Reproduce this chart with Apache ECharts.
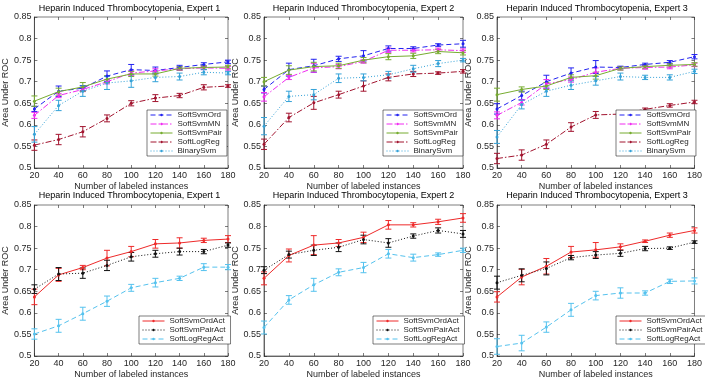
<!DOCTYPE html>
<html>
<head>
<meta charset="utf-8">
<script src="https://cdn.jsdelivr.net/npm/echarts@6/dist/echarts.min.js"></script>
<style>
  html, body { margin: 0; padding: 0; background: #fff; }
  #chart { width: 705px; height: 382px; }
</style>
</head>
<body>
<div id="chart"></div>
<script>
// x values (number of labeled instances)
var xVals = [20, 40, 60, 80, 100, 120, 140, 160, 180];

// top row: passive learning, expert 1
var ord1 = [0.637, 0.678, 0.685, 0.713, 0.728, 0.726, 0.733, 0.740, 0.746];
var ord1Err = [0.006, 0.012, 0.006, 0.012, 0.012, 0.008, 0.005, 0.004, 0.004];
var mn1 = [0.622, 0.668, 0.682, 0.700, 0.720, 0.725, 0.730, 0.732, 0.731];
var mn1Err = [0.007, 0.005, 0.005, 0.005, 0.005, 0.005, 0.004, 0.004, 0.004];
var pair1 = [0.655, 0.677, 0.688, 0.706, 0.718, 0.718, 0.731, 0.733, 0.734];
var pair1Err = [0.012, 0.008, 0.010, 0.008, 0.006, 0.005, 0.004, 0.004, 0.004];
var logreg1 = [0.553, 0.566, 0.584, 0.615, 0.650, 0.662, 0.668, 0.687, 0.690];
var logreg1Err = [0.012, 0.012, 0.012, 0.008, 0.006, 0.008, 0.005, 0.006, 0.003];
var bin1 = [0.578, 0.645, 0.678, 0.697, 0.702, 0.710, 0.712, 0.722, 0.720];
var bin1Err = [0.018, 0.012, 0.012, 0.015, 0.015, 0.010, 0.008, 0.006, 0.004];

// expert 2
var ord2 = [0.682, 0.728, 0.737, 0.753, 0.760, 0.777, 0.777, 0.785, 0.788];
var ord2Err = [0.008, 0.015, 0.015, 0.006, 0.012, 0.006, 0.004, 0.003, 0.008];
var mn2 = [0.665, 0.710, 0.732, 0.735, 0.747, 0.773, 0.773, 0.774, 0.772];
var mn2Err = [0.010, 0.005, 0.010, 0.005, 0.004, 0.005, 0.004, 0.004, 0.004];
var pair2 = [0.700, 0.727, 0.735, 0.737, 0.750, 0.758, 0.760, 0.770, 0.767];
var pair2Err = [0.010, 0.010, 0.010, 0.006, 0.006, 0.007, 0.006, 0.005, 0.005];
var logreg2 = [0.555, 0.617, 0.651, 0.670, 0.690, 0.710, 0.718, 0.720, 0.724];
var logreg2Err = [0.012, 0.010, 0.015, 0.008, 0.012, 0.008, 0.006, 0.003, 0.004];
var bin2 = [0.597, 0.666, 0.670, 0.708, 0.710, 0.716, 0.730, 0.742, 0.750];
var bin2Err = [0.020, 0.012, 0.012, 0.010, 0.008, 0.008, 0.008, 0.007, 0.004];

// expert 3
var ord3 = [0.637, 0.668, 0.700, 0.720, 0.734, 0.733, 0.740, 0.745, 0.758];
var ord3Err = [0.012, 0.010, 0.015, 0.012, 0.015, 0.003, 0.003, 0.004, 0.005];
var mn3 = [0.622, 0.652, 0.695, 0.705, 0.722, 0.731, 0.733, 0.734, 0.739];
var mn3Err = [0.008, 0.006, 0.010, 0.006, 0.010, 0.004, 0.004, 0.004, 0.004];
var pair3 = [0.670, 0.682, 0.690, 0.710, 0.714, 0.731, 0.735, 0.738, 0.740];
var pair3Err = [0.015, 0.006, 0.008, 0.006, 0.008, 0.004, 0.004, 0.004, 0.004];
var logreg3 = [0.522, 0.530, 0.555, 0.595, 0.623, 0.625, 0.636, 0.645, 0.653];
var logreg3Err = [0.012, 0.012, 0.010, 0.010, 0.008, 0.004, 0.003, 0.004, 0.004];
var bin3 = [0.572, 0.647, 0.678, 0.692, 0.702, 0.712, 0.710, 0.710, 0.724];
var bin3Err = [0.015, 0.010, 0.012, 0.010, 0.010, 0.008, 0.005, 0.006, 0.005];

// bottom row: active learning
var ordAct1 = [0.637, 0.688, 0.705, 0.727, 0.742, 0.760, 0.762, 0.768, 0.771];
var ordAct1Err = [0.018, 0.015, 0.005, 0.018, 0.012, 0.010, 0.012, 0.005, 0.008];
var pairAct1 = [0.655, 0.690, 0.692, 0.710, 0.730, 0.737, 0.742, 0.742, 0.757];
var pairAct1Err = [0.010, 0.015, 0.012, 0.012, 0.010, 0.008, 0.008, 0.005, 0.005];
var logregAct1 = [0.551, 0.570, 0.598, 0.627, 0.658, 0.670, 0.680, 0.706, 0.706];
var logregAct1Err = [0.012, 0.015, 0.015, 0.012, 0.008, 0.010, 0.005, 0.008, 0.006];

var ordAct2 = [0.680, 0.733, 0.757, 0.762, 0.775, 0.804, 0.804, 0.811, 0.820];
var ordAct2Err = [0.015, 0.015, 0.022, 0.008, 0.012, 0.010, 0.005, 0.006, 0.010];
var pairAct2 = [0.699, 0.735, 0.745, 0.752, 0.770, 0.762, 0.778, 0.791, 0.783];
var pairAct2Err = [0.008, 0.008, 0.012, 0.010, 0.010, 0.010, 0.005, 0.006, 0.008];
var logregAct2 = [0.566, 0.630, 0.665, 0.694, 0.705, 0.737, 0.728, 0.735, 0.745];
var logregAct2Err = [0.015, 0.010, 0.015, 0.008, 0.012, 0.010, 0.008, 0.004, 0.005];

var ordAct3 = [0.637, 0.683, 0.708, 0.741, 0.746, 0.753, 0.766, 0.780, 0.791];
var ordAct3Err = [0.012, 0.018, 0.018, 0.013, 0.017, 0.007, 0.003, 0.005, 0.006];
var pairAct3 = [0.670, 0.687, 0.703, 0.728, 0.734, 0.738, 0.749, 0.750, 0.764];
var pairAct3Err = [0.015, 0.015, 0.015, 0.005, 0.008, 0.007, 0.005, 0.003, 0.003];
var logregAct3 = [0.522, 0.530, 0.567, 0.607, 0.640, 0.646, 0.646, 0.673, 0.674];
var logregAct3Err = [0.018, 0.018, 0.012, 0.015, 0.010, 0.012, 0.005, 0.005, 0.007];

var topNames = ['SoftSvmOrd', 'SoftSvmMN', 'SoftSvmPair', 'SoftLogReg', 'BinarySvm'];
var bottomNames = ['SoftSvmOrdAct', 'SoftSvmPairAct', 'SoftLogRegAct'];
var panelTitles = [
  'Heparin Induced Thrombocytopenia, Expert 1',
  'Heparin Induced Thrombocytopenia, Expert 2',
  'Heparin Induced Thrombocytopenia, Expert 3',
  'Heparin Induced Thrombocytopenia, Expert 1',
  'Heparin Induced Thrombocytopenia, Expert 2',
  'Heparin Induced Thrombocytopenia, Expert 3'
];

// line look per method (matlab style)
var looks = {
  SoftSvmOrd: { color: '#2323f0', type: [5, 3] },
  SoftSvmMN: { color: '#f02cf0', type: [6, 2, 1.5, 2] },
  SoftSvmPair: { color: '#77ac30', type: 'solid' },
  SoftLogReg: { color: '#a2142f', type: [6, 2, 1.5, 2] },
  BinarySvm: { color: '#34a2d8', type: [1, 2] },
  SoftSvmOrdAct: { color: '#ee2a2a', type: 'solid' },
  SoftSvmPairAct: { color: '#111111', type: [1, 2] },
  SoftLogRegAct: { color: '#55c2ee', type: [5, 3] }
};

var panels = [
  { names: topNames, means: [ord1, mn1, pair1, logreg1, bin1], errs: [ord1Err, mn1Err, pair1Err, logreg1Err, bin1Err] },
  { names: topNames, means: [ord2, mn2, pair2, logreg2, bin2], errs: [ord2Err, mn2Err, pair2Err, logreg2Err, bin2Err] },
  { names: topNames, means: [ord3, mn3, pair3, logreg3, bin3], errs: [ord3Err, mn3Err, pair3Err, logreg3Err, bin3Err] },
  { names: bottomNames, means: [ordAct1, pairAct1, logregAct1], errs: [ordAct1Err, pairAct1Err, logregAct1Err] },
  { names: bottomNames, means: [ordAct2, pairAct2, logregAct2], errs: [ordAct2Err, pairAct2Err, logregAct2Err] },
  { names: bottomNames, means: [ordAct3, pairAct3, logregAct3], errs: [ordAct3Err, pairAct3Err, logregAct3Err] }
];

var grids = [
  { left: 31, top: 17, width: 197, height: 151 },
  { left: 264, top: 17, width: 199, height: 151 },
  { left: 497, top: 17, width: 200, height: 151 },
  { left: 31, top: 205, width: 197, height: 151 },
  { left: 264, top: 205, width: 199, height: 151 },
  { left: 497, top: 205, width: 200, height: 151 }
];
var legendPos = [
  { left: 147, top: 110 }, { left: 383, top: 110 }, { left: 616, top: 110 },
  { left: 139, top: 316 }, { left: 373, top: 316 }, { left: 616, top: 316 }
];

var axisColor = '#262626';
var fontFam = 'Liberation Sans, Arial, sans-serif';

function renderErr(params, api) {
  var x = api.value(0);
  var lo = api.coord([x, api.value(1)]);
  var hi = api.coord([x, api.value(2)]);
  var w = 3;
  var style = { stroke: api.visual('color'), lineWidth: 1 };
  return {
    type: 'group',
    children: [
      { type: 'line', shape: { x1: lo[0], y1: lo[1], x2: hi[0], y2: hi[1] }, style: style },
      { type: 'line', shape: { x1: lo[0] - w, y1: lo[1], x2: lo[0] + w, y2: lo[1] }, style: style },
      { type: 'line', shape: { x1: hi[0] - w, y1: hi[1], x2: hi[0] + w, y2: hi[1] }, style: style }
    ]
  };
}

var option = {
  animation: false,
  backgroundColor: '#fff',
  textStyle: { fontFamily: fontFam },
  title: [],
  grid: [],
  xAxis: [],
  yAxis: [],
  legend: [],
  series: []
};

grids.forEach(function (g, i) {
  option.grid.push({ left: g.left, top: g.top, width: g.width, height: g.height, show: true, borderColor: axisColor, borderWidth: 0.6 });
  option.title.push({
    text: panelTitles[i],
    left: g.left + g.width / 2,
    top: i < 3 ? 4 : 191,
    textAlign: 'center',
    padding: 0,
    textStyle: { fontSize: 9, fontWeight: 'normal', color: '#000', fontFamily: fontFam }
  });
});

// main axes
grids.forEach(function (g, i) {
  option.xAxis.push({
    type: 'value', gridIndex: i, min: 20, max: 180, interval: 20,
    name: 'Number of labeled instances', nameLocation: 'middle', nameGap: 14,
    nameTextStyle: { fontSize: 9, color: axisColor },
    axisLine: { lineStyle: { color: axisColor, width: 0.6 } },
    axisTick: { inside: true, length: 3, lineStyle: { color: axisColor, width: 0.6 } },
    axisLabel: { fontSize: 9, color: axisColor, margin: 3 },
    splitLine: { show: false }
  });
  option.yAxis.push({
    type: 'value', gridIndex: i, min: 0.5, max: 0.85, interval: 0.05,
    name: 'Area Under ROC', nameLocation: 'middle', nameGap: 22,
    nameTextStyle: { fontSize: 9, color: axisColor },
    axisLine: { show: true, lineStyle: { color: axisColor, width: 0.6 } },
    axisTick: { show: true, inside: true, length: 3, lineStyle: { color: axisColor, width: 0.6 } },
    axisLabel: { fontSize: 9, color: axisColor, margin: 3 },
    splitLine: { show: false }
  });
});
// box ticks on top and right
grids.forEach(function (g, i) {
  option.xAxis.push({
    type: 'value', gridIndex: i, position: 'top', min: 20, max: 180, interval: 20,
    axisLine: { show: false }, axisLabel: { show: false }, splitLine: { show: false },
    axisTick: { inside: true, length: 3, lineStyle: { color: axisColor, width: 0.6 } }
  });
  option.yAxis.push({
    type: 'value', gridIndex: i, position: 'right', min: 0.5, max: 0.85, interval: 0.05,
    axisLine: { show: false }, axisLabel: { show: false }, splitLine: { show: false },
    axisTick: { show: true, inside: true, length: 3, lineStyle: { color: axisColor, width: 0.6 } }
  });
});

panels.forEach(function (p, i) {
  p.names.forEach(function (name, k) {
    var look = looks[name];
    var mean = p.means[k];
    var err = p.errs[k];
    option.series.push({
      name: name, type: 'line', xAxisIndex: i, yAxisIndex: i,
      data: xVals.map(function (x, j) { return [x, mean[j]]; }),
      symbol: 'circle', symbolSize: 3, showSymbol: true,
      itemStyle: { color: look.color },
      lineStyle: { color: look.color, width: 1, type: look.type },
      z: 3
    });
    option.series.push({
      name: name + ' err', type: 'custom', xAxisIndex: i, yAxisIndex: i,
      data: xVals.map(function (x, j) { return [x, mean[j] - err[j], mean[j] + err[j]]; }),
      encode: { x: 0, y: [1, 2] },
      renderItem: renderErr,
      itemStyle: { color: look.color },
      z: 2
    });
  });
  var lp = legendPos[i];
  option.legend.push({
    data: p.names, orient: 'vertical', left: lp.left, top: lp.top,
    itemWidth: 22, itemHeight: 3, itemGap: 1,
    padding: [1, 5, 1, 3],
    backgroundColor: '#fff', borderColor: axisColor, borderWidth: 0.6,
    lineStyle: { width: 1 },
    itemStyle: { borderWidth: 0 },
    textStyle: { fontSize: 8, color: axisColor }
  });
});

var chart = echarts.init(document.getElementById('chart'), null, { renderer: 'canvas' });
chart.setOption(option);
</script>
</body>
</html>
